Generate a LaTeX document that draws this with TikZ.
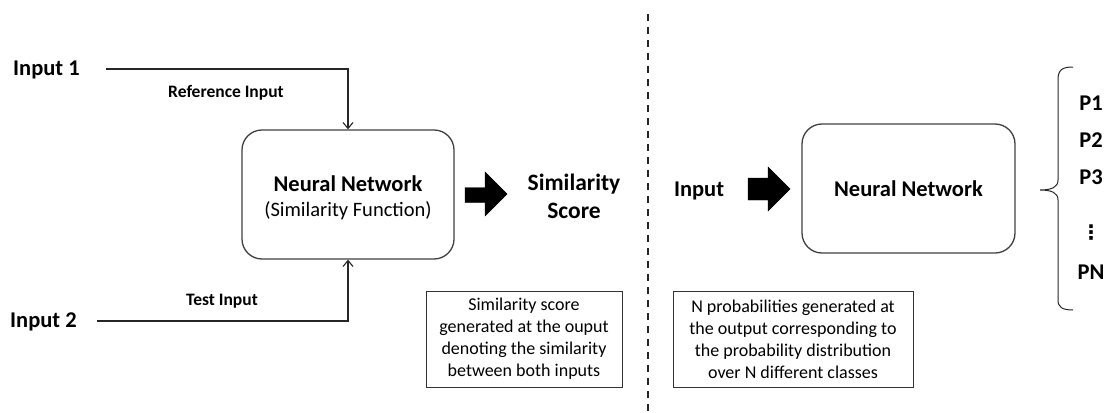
\documentclass[tikz,border=0pt]{standalone}
\usepackage{fontspec}
\setmainfont{Carlito}
\newfontfamily\symfont{DejaVu Sans}
\usetikzlibrary{arrows.meta}
\begin{document}
\begin{tikzpicture}[x=1pt,y=-1pt,
  lbl/.style={font=\fontsize{22.5}{27}\selectfont\bfseries, inner sep=0pt, anchor=base},
  small/.style={font=\fontsize{17.5}{21}\selectfont\bfseries, inner sep=0pt, anchor=base},
  netbox/.style={draw=black!75, line width=1.3pt, rounded corners=20pt,
    minimum height=129pt, inner sep=0pt},
  notebox/.style={draw=black!80, line width=1pt, minimum width=196pt,
    minimum height=96pt, align=center, inner sep=0pt,
    font=\fontsize{18}{22}\selectfont},
  feed/.style={draw=black!85, line width=1.1pt,
    -{Straight Barb[length=6pt,width=10pt,line width=1.1pt]}},
  fat/.style={fill=black, draw=black, line width=0.4pt}]
\useasboundingbox (0,0) rectangle (1107,412);

% ---- left half: similarity model ----
\node[lbl, anchor=base west] (in1) at (13,75) {Input 1};
\node[lbl, anchor=base west] (in2) at (10,327) {Input 2};
\node[netbox, minimum width=212pt] (nn1) at (348,194.5) {};
\node[lbl] (nn1t) at (348,191) {Neural Network};
\node[inner sep=0pt, anchor=base, font=\fontsize{20.5}{24}\selectfont]
  (nn1s) at (348,216) {(Similarity Function)};
\coordinate (c1) at (106,69);
\coordinate (c2) at (97,321);
\draw[feed] (c1) -- (nn1.north |- c1) -- (nn1.north);
\draw[feed] (c2) -- (nn1.south |- c2) -- (nn1.south);
\node[small] (ref) at (226,97.5) {Reference Input};
\node[small] (test) at (222,305.5) {Test Input};

% block arrow towards the score
\draw[fat] (465,187.5) -- (485,187.5) -- (485,172) -- (507,194)
  -- (485,216) -- (485,202.5) -- (465,202.5) -- cycle;
\node[lbl, font=\fontsize{23.5}{27}\selectfont\bfseries] (sim) at (574,190.5) {Similarity};
\node[lbl, font=\fontsize{23.5}{27}\selectfont\bfseries] (score) at (574,218) {Score};

\node[notebox] (note1) at (524,339)
  {Similarity score\\generated at the ouput\\denoting the similarity\\between both inputs};

% ---- divider ----
\coordinate (dtop) at (648,14);
\coordinate (dbot) at (648,412);
\draw[line width=1.8pt, dash pattern=on 7pt off 6pt, black!85] (dtop) -- (dbot);

% ---- right half: classification model ----
\node[lbl] (inp) at (699,196.5) {Input};
\draw[fat] (748,178) -- (768,178) -- (768,167) -- (790,189)
  -- (768,211) -- (768,200) -- (748,200) -- cycle;
\node[netbox, minimum width=213pt] (nn2) at (908.5,188.5) {};
\node[lbl] (nn2t) at (908.5,196.5) {Neural Network};

\node[notebox, minimum width=240pt] (note2) at (793,339)
  {N probabilities generated at\\the output corresponding to\\the probability distribution\\over N different classes};

% output brace and class probabilities
\draw[black!85, line width=1pt]
  (1073,67) .. controls (1062,67) and (1058,70) .. (1058,80)
  -- (1058,180) .. controls (1058,187) and (1052,190) .. (1040,190)
  .. controls (1052,190) and (1058,193) .. (1058,200)
  -- (1058,300) .. controls (1058,307) and (1062,310) .. (1073,310);
\node[lbl] (p1) at (1091,110) {P1};
\node[lbl] (p2) at (1091,147) {P2};
\node[lbl] (p3) at (1091,184) {P3};
\node[inner sep=0pt, font=\symfont\bfseries\fontsize{20}{24}\selectfont] (pd) at (1091,233) {⋮};
\node[lbl] (pn) at (1091,279) {PN};
\end{tikzpicture}
\end{document}
